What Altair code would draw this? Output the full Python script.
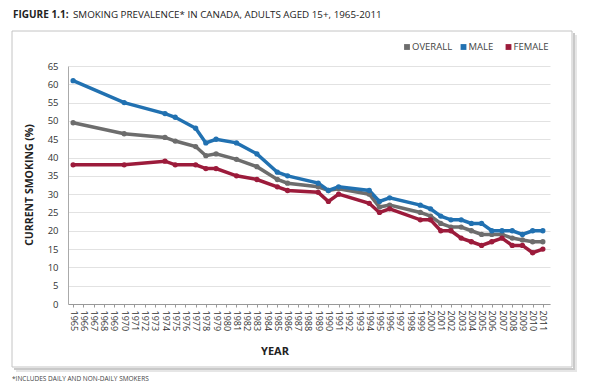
import altair as alt
import pandas as pd

years = [1965, 1970, 1974, 1975, 1977, 1978, 1979, 1981, 1983, 1985, 1986, 1989,
         1990, 1991, 1994, 1995, 1996, 1999, 2000, 2001, 2002, 2003, 2004, 2005,
         2006, 2007, 2008, 2009, 2010, 2011]
overall = [49.5, 46.5, 45.5, 44.5, 43, 40.5, 41, 39.5, 37.5, 34, 33, 32,
           31, 31.5, 30, 26.5, 27, 25, 24, 22, 21, 21, 20, 19,
           19, 19, 18, 17.5, 17, 17]
male = [61, 55, 52, 51, 48, 44, 45, 44, 41, 36, 35, 33,
        31, 32, 31, 28, 29, 27, 26, 24, 23, 23, 22, 22,
        20, 20, 20, 19, 20, 20]
female = [38, 38, 39, 38, 38, 37, 37, 35, 34, 32, 31, 30.5,
          28, 30, 27.5, 25, 26, 23, 23, 20, 20, 18, 17, 16,
          17, 18, 16, 16, 14, 15]

series_names = ["OVERALL", "MALE", "FEMALE"]
series_colors = ["#6d6d6d", "#2171b1", "#9c1b3b"]
tick_years = list(range(1965, 2012))

rows = []
for name, vals in zip(series_names, [overall, male, female]):
    for y, v in zip(years, vals):
        rows.append({"year": y, "value": v, "series": name})
df = pd.DataFrame(rows)

FONT = "Open Sans"
W, H = 482, 238

one = pd.DataFrame({"a": [0]})

# frame with soft shadow on right/bottom
frame = alt.Chart(one).mark_rect(fill="white", fillOpacity=0, stroke="#c4c4c4",
                                 strokeWidth=1).encode(
    x=alt.value(-56), x2=alt.value(504), y=alt.value(-35), y2=alt.value(301))
sh_r1 = alt.Chart(one).mark_rule(color="#c9c9c9", strokeWidth=2).encode(
    x=alt.value(506), y=alt.value(-33), y2=alt.value(303))
sh_b1 = alt.Chart(one).mark_rule(color="#c9c9c9", strokeWidth=2).encode(
    x=alt.value(-54), x2=alt.value(507), y=alt.value(303))
sh_r2 = alt.Chart(one).mark_rule(color="#e6e6e6", strokeWidth=2).encode(
    x=alt.value(508), y=alt.value(-31), y2=alt.value(305))
sh_b2 = alt.Chart(one).mark_rule(color="#e6e6e6", strokeWidth=2).encode(
    x=alt.value(-52), x2=alt.value(509), y=alt.value(305))

xscale = alt.Scale(domain=[1964.5, 2011.7], nice=False, zero=False)
yscale = alt.Scale(domain=[0, 65], nice=False)
cscale = alt.Scale(domain=series_names, range=series_colors)

base = alt.Chart(df).encode(
    x=alt.X("year:Q", scale=xscale,
            axis=alt.Axis(values=tick_years, format="d", labelAngle=90, labelAlign="left",
                          labelBaseline="middle", labelFontSize=9, labelColor="#333",
                          labelFont=FONT, tickSize=3, tickColor="#999", domainColor="#999",
                          grid=False, title=None, labelPadding=3, labelOverlap=False,
                          labelFlush=False)),
    y=alt.Y("value:Q", scale=yscale,
            axis=alt.Axis(values=list(range(0, 66, 5)), labelFontSize=9.5, labelColor="#333",
                          labelFont=FONT, tickSize=0, labelPadding=10, domainColor="#aaa",
                          gridColor="#e2e2e2", title=None)),
    color=alt.Color("series:N", scale=cscale, legend=None),
    detail="series:N",
)
lines = base.mark_line(strokeWidth=3.5)
points = base.mark_circle(size=28, opacity=1)

title_bold = alt.Chart(one).mark_text(text="FIGURE 1.1:", font=FONT, fontWeight="bold",
                                      fontSize=10, align="left", baseline="middle",
                                      color="#222").encode(x=alt.value(-55), y=alt.value(-51))
title_reg = alt.Chart(one).mark_text(
    text="SMOKING PREVALENCE* IN CANADA, ADULTS AGED 15+, 1965-2011", font=FONT,
    fontSize=9.8, align="left", baseline="middle", color="#222").encode(
    x=alt.value(5), y=alt.value(-51))

legend_x_sq = [339, 395.5, 440.5]
legend_df = pd.DataFrame({"series": series_names, "sx": legend_x_sq,
                          "tx": [v + 5 for v in legend_x_sq]})
leg_sq = alt.Chart(legend_df).mark_square(size=34, opacity=1).encode(
    x=alt.X("sx:Q", scale=None), y=alt.value(-19),
    color=alt.Color("series:N", scale=cscale, legend=None))
leg_tx = alt.Chart(legend_df).mark_text(font=FONT, fontSize=9.5, align="left",
                                        baseline="middle", color="#444").encode(
    x=alt.X("tx:Q", scale=None), y=alt.value(-19), text="series:N")

ytitle = alt.Chart(one).mark_text(text="CURRENT SMOKING (%)", font=FONT, fontWeight="bold",
                                  fontSize=10.5, angle=270, align="center",
                                  baseline="middle", color="#222").encode(
    x=alt.value(-38), y=alt.value(119))
xtitle = alt.Chart(one).mark_text(text="YEAR", font=FONT, fontWeight="bold", fontSize=11,
                                  align="center", baseline="middle", color="#222").encode(
    x=alt.value(207), y=alt.value(286))
foot = alt.Chart(one).mark_text(text="*INCLUDES DAILY AND NON-DAILY SMOKERS", font=FONT,
                                fontSize=6.5, align="left", baseline="middle",
                                color="#444").encode(x=alt.value(-56), y=alt.value(313))

chart = alt.layer(
    sh_r2, sh_b2, sh_r1, sh_b1, frame, lines, points, title_bold, title_reg, leg_sq, leg_tx,
    ytitle, xtitle, foot
).properties(
    width=W, height=H,
    autosize=alt.AutoSizeParams(type="none"),
    padding={"left": 60, "top": 58, "right": 32, "bottom": 80},
    background="white",
).configure_view(stroke=None)

chart.save("out.html", embed_options={"renderer": "svg", "actions": False})
